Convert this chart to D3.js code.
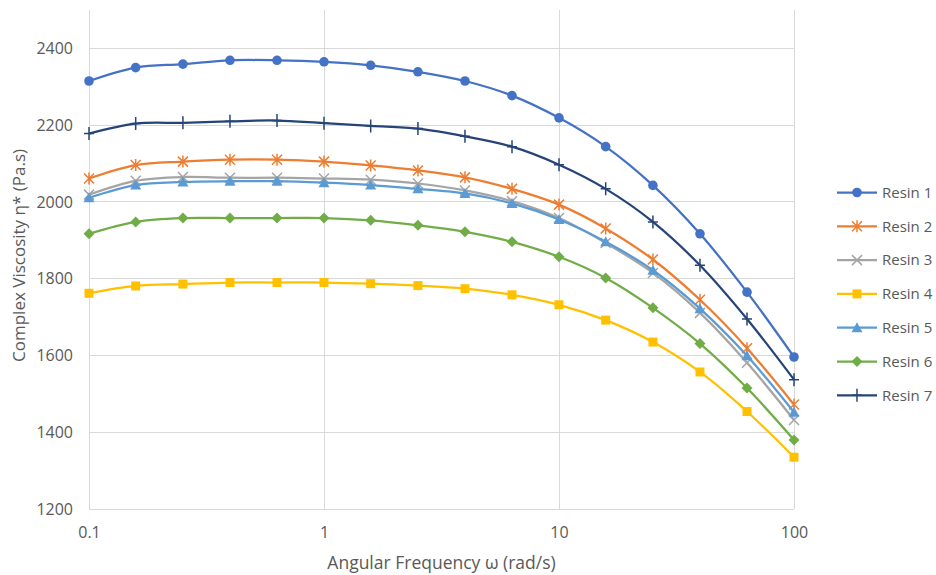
<!DOCTYPE html>
<html><head><meta charset="utf-8">
<script src="https://cdn.jsdelivr.net/npm/d3@7"></script>
<style>body{margin:0;background:#fff;} text{font-family:"Open Sans",Lato,sans-serif;fill:#595959;}</style>
</head><body>
<svg id="chart" width="936" height="575"></svg>
<script>
const freqs = [0.1,0.158,0.251,0.398,0.631,1,1.58,2.51,3.98,6.31,10,15.8,25.1,39.8,63.1,100];
const seriesNames = ["Resin 1","Resin 2","Resin 3","Resin 4","Resin 5","Resin 6","Resin 7"];
const resin1 = [2315,2350,2359,2369,2369,2365,2356,2339,2315,2277,2219,2144,2043,1917,1765,1596];
const resin2 = [2061,2096,2105,2110,2110,2105,2095,2082,2064,2034,1993,1931,1850,1745,1619,1472];
const resin3 = [2019,2055,2065,2063,2063,2061,2058,2048,2030,2002,1958,1893,1815,1711,1581,1432];
const resin4 = [1762,1781,1786,1790,1790,1790,1787,1782,1774,1758,1732,1692,1635,1557,1454,1335];
const resin5 = [2011,2044,2052,2054,2054,2050,2044,2034,2022,1996,1954,1896,1822,1722,1599,1452];
const resin6 = [1917,1948,1958,1958,1958,1958,1952,1939,1922,1896,1857,1802,1724,1631,1515,1380];
const resin7 = [2178,2204,2206,2210,2212,2205,2198,2191,2171,2144,2097,2034,1948,1835,1695,1537];
const xTicks = [0.1,1,10,100];
const yTicks = [1200,1400,1600,1800,2000,2200,2400];
const colors = ["#4472C4","#ED7D31","#A5A5A5","#FFC000","#5B9BD5","#70AD47","#264478"];
const markers = ["circle","star","x","square","triangle","diamond","plus"];
const allValues = [resin1,resin2,resin3,resin4,resin5,resin6,resin7];

const svg = d3.select("#chart");
const m = {left:89, right:794, top:10, bottom:509};
const x = d3.scaleLog().domain([0.1,100]).range([m.left,m.right]);
const y = d3.scaleLinear().domain([1200,2500]).range([m.bottom,m.top]);

svg.append("g").selectAll("line").data(yTicks).join("line")
  .attr("x1",m.left).attr("x2",m.right).attr("y1",d=>y(d)).attr("y2",d=>y(d))
  .attr("stroke","#d9d9d9").attr("stroke-width",1).attr("shape-rendering","crispEdges");
svg.append("g").selectAll("line").data(xTicks).join("line")
  .attr("x1",d=>x(d)).attr("x2",d=>x(d)).attr("y1",m.top).attr("y2",m.bottom)
  .attr("stroke","#d9d9d9").attr("stroke-width",1).attr("shape-rendering","crispEdges");

const yAxis = svg.append("g").attr("transform",`translate(${m.left},0)`)
  .call(d3.axisLeft(y).tickValues(yTicks).tickSize(0).tickPadding(16).tickFormat(d3.format("d")));
yAxis.select(".domain").remove();
yAxis.selectAll("text").style("font-size","16px").attr("fill","#595959");
const xAxis = svg.append("g").attr("transform",`translate(0,${m.bottom})`)
  .call(d3.axisBottom(x).tickValues(xTicks).tickSize(0).tickPadding(18).tickFormat(d=>String(d)));
xAxis.select(".domain").remove();
xAxis.selectAll("text").style("font-size","16px").attr("fill","#595959");

svg.append("text").attr("x",(m.left+m.right)/2).attr("y",569).attr("text-anchor","middle")
  .style("font-size","17.5px").text("Angular Frequency ω (rad/s)");
svg.append("text").attr("transform",`translate(25,${(m.top+m.bottom)/2-4}) rotate(-90)`).attr("text-anchor","middle")
  .style("font-size","17px").text("Complex Viscosity η* (Pa.s)");

function drawMarker(g, type, color){
  if(type==="circle") g.append("circle").attr("r",4.8).attr("fill",color);
  else if(type==="square") g.append("rect").attr("x",-4.5).attr("y",-4.5).attr("width",9).attr("height",9).attr("fill",color);
  else if(type==="triangle") g.append("path").attr("d","M0,-5.5L5.5,4.5L-5.5,4.5Z").attr("fill",color);
  else if(type==="diamond") g.append("path").attr("d","M0,-5.5L5.5,0L0,5.5L-5.5,0Z").attr("fill",color);
  else if(type==="x") g.append("path").attr("d","M-5,-5L5,5M-5,5L5,-5").attr("stroke",color).attr("stroke-width",1.5).attr("fill","none");
  else if(type==="star") g.append("path").attr("d","M-5,-5L5,5M-5,5L5,-5M0,-6L0,6").attr("stroke",color).attr("stroke-width",1.5).attr("fill","none");
  else if(type==="plus") g.append("path").attr("d","M0,-6.5L0,6.5M-5,0L5,0").attr("stroke",color).attr("stroke-width",1.5).attr("fill","none");
}

const line = d3.line().x(d=>x(d[0])).y(d=>y(d[1])).curve(d3.curveCatmullRom.alpha(0.5));
allValues.forEach((vals,i)=>{
  const pts = freqs.map((f,j)=>[f,vals[j]]);
  const g = svg.append("g");
  g.append("path").attr("d",line(pts)).attr("fill","none").attr("stroke",colors[i]).attr("stroke-width",2.25);
  pts.forEach(p=>{
    const mg = g.append("g").attr("transform",`translate(${x(p[0])},${y(p[1])})`);
    drawMarker(mg, markers[i], colors[i]);
  });
});

const leg = svg.append("g");
seriesNames.forEach((n,i)=>{
  const yy = 192.5 + i*33.8;
  leg.append("line").attr("x1",837).attr("x2",877).attr("y1",yy).attr("y2",yy).attr("stroke",colors[i]).attr("stroke-width",2.25);
  drawMarker(leg.append("g").attr("transform",`translate(857,${yy})`), markers[i], colors[i]);
  leg.append("text").attr("x",882).attr("y",yy).attr("dy","0.35em").style("font-size","15px").text(n);
});
</script>
</body></html>
